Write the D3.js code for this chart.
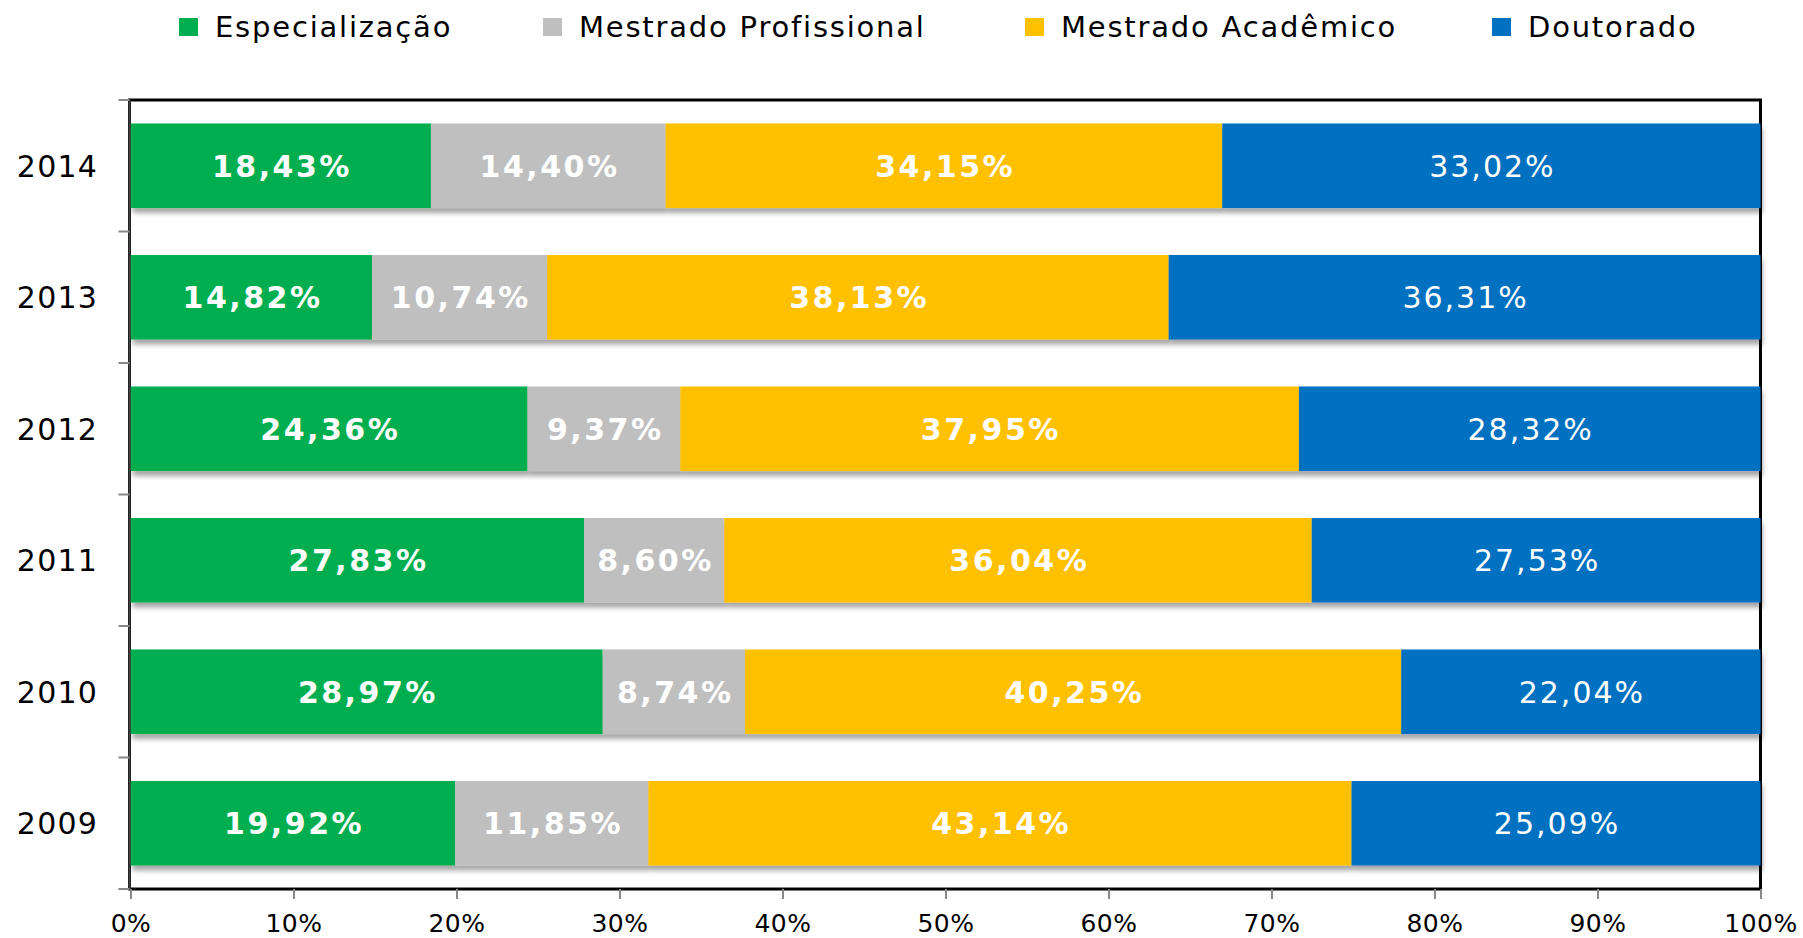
<!DOCTYPE html>
<html lang="pt">
<head>
<meta charset="utf-8">
<title>Distribuição por nível</title>
<script src="https://cdn.jsdelivr.net/npm/d3@7/dist/d3.min.js"></script>
<style>
  body { margin: 0; background: #fff; }
  text { font-family: Verdana, "DejaVu Sans", sans-serif; }
</style>
</head>
<body>
<script>
// data (percent of each year's total)
var years = ["2014", "2013", "2012", "2011", "2010", "2009"];
var series = ["Especialização", "Mestrado Profissional", "Mestrado Acadêmico", "Doutorado"];
var especializacao = [18.43, 14.82, 24.36, 27.83, 28.97, 19.92];
var mestradoProf   = [14.40, 10.74, 9.37, 8.60, 8.74, 11.85];
var mestradoAcad   = [34.15, 38.13, 37.95, 36.04, 40.25, 43.14];
var doutorado      = [33.02, 36.31, 28.32, 27.53, 22.04, 25.09];
var xTicks = [0, 10, 20, 30, 40, 50, 60, 70, 80, 90, 100];

var colors = ["#00ae4f", "#bfbfbf", "#ffc000", "#0070c0"];
var values = [especializacao, mestradoProf, mestradoAcad, doutorado];

var W = 1803, H = 938;
var plot = {left: 130.5, right: 1760.5, top: 100, bottom: 889};

var svg = d3.select("body").append("svg")
    .attr("width", W).attr("height", H);

var defs = svg.append("defs");
var f = defs.append("filter").attr("id", "shadow")
    .attr("x", "-5%").attr("y", "-20%").attr("width", "110%").attr("height", "150%");
f.append("feDropShadow").attr("dx", 2).attr("dy", 5)
    .attr("stdDeviation", 2.5).attr("flood-color", "#000").attr("flood-opacity", 0.35);

var x = d3.scaleLinear().domain([0, 100]).range([plot.left, plot.right]);
var y = d3.scaleBand().domain(years).range([plot.top, plot.bottom])
    .paddingInner(0.357).paddingOuter(0.357 / 2);

// build stacked rows
var rows = years.map(function (yr, i) {
    var acc = 0;
    return {
        year: yr,
        segs: series.map(function (s, k) {
            var v = values[k][i];
            var seg = {key: s, k: k, x0: acc, x1: acc + v, v: v};
            acc += v;
            return seg;
        })
    };
});

// plot frame
svg.append("rect")
    .attr("x", plot.left - 1).attr("y", plot.top)
    .attr("width", plot.right - plot.left + 1).attr("height", plot.bottom - plot.top)
    .attr("fill", "none").attr("stroke", "#000").attr("stroke-width", 3);

var rowG = svg.selectAll("g.row").data(rows).enter()
    .append("g").attr("class", "row");

rowG.append("g").attr("filter", "url(#shadow)")
    .selectAll("rect").data(function (d) { return d.segs.map(function (s) { return {s: s, year: d.year}; }); })
    .enter().append("rect")
    .attr("x", function (d) { return x(d.s.x0); })
    .attr("width", function (d) { return x(d.s.x1) - x(d.s.x0); })
    .attr("y", function (d) { return y(d.year); })
    .attr("height", y.bandwidth())
    .attr("fill", function (d) { return colors[d.s.k]; });

rowG.selectAll("text.lbl")
    .data(function (d) { return d.segs.map(function (s) { return {s: s, year: d.year}; }); })
    .enter().append("text").attr("class", "lbl")
    .attr("x", function (d) { return (x(d.s.x0) + x(d.s.x1)) / 2 + (d.s.k < 3 ? 1.25 : 1); })
    .attr("y", function (d) { return y(d.year) + y.bandwidth() / 2; })
    .attr("dy", "0.36em")
    .attr("text-anchor", "middle")
    .attr("fill", "#fff")
    .style("font-size", "30px")
    .style("letter-spacing", function (d) { return d.s.k < 3 ? "2.5px" : "2px"; })
    .style("font-weight", function (d) { return d.s.k < 3 ? "bold" : "normal"; })
    .text(function (d) { return d.s.v.toFixed(2).replace(".", ",") + "%"; });

// y axis: labels and boundary ticks
var yAxis = svg.append("g");
yAxis.append("line")
    .attr("x1", plot.left - 1).attr("x2", plot.left - 1)
    .attr("y1", plot.top).attr("y2", plot.bottom)
    .attr("stroke", "#444").attr("stroke-width", 2);
var bounds = years.map(function (yr) { return y(yr) - y.step() * y.paddingOuter(); });
bounds.push(plot.bottom);
yAxis.selectAll("line.tk").data(bounds).enter().append("line")
    .attr("x1", plot.left - 12).attr("x2", plot.left - 1)
    .attr("y1", function (d) { return d; }).attr("y2", function (d) { return d; })
    .attr("stroke", "#888").attr("stroke-width", 2);
yAxis.selectAll("text").data(years).enter().append("text")
    .attr("x", 98)
    .attr("y", function (d) { return y(d) + y.bandwidth() / 2; })
    .attr("dy", "0.36em")
    .attr("text-anchor", "end")
    .style("font-size", "30px")
    .style("letter-spacing", "1.2px")
    .attr("fill", "#000")
    .text(function (d) { return d; });

// x axis
var xAxis = svg.append("g")
    .attr("transform", "translate(0," + plot.bottom + ")")
    .call(d3.axisBottom(x).tickValues(xTicks).tickSize(10).tickPadding(15)
        .tickFormat(function (d) { return d + "%"; }));
xAxis.select(".domain").remove();
xAxis.selectAll(".tick line").attr("stroke", "#888").attr("stroke-width", 2);
xAxis.selectAll(".tick text")
    .attr("fill", "#000")
    .style("font-size", "25px")
    .style("letter-spacing", "0.5px")
    .style("font-family", "Verdana, 'DejaVu Sans', sans-serif");

// legend
var legendX = [179, 543, 1025, 1492];
var lg = svg.selectAll("g.legend").data(series).enter()
    .append("g").attr("class", "legend")
    .attr("transform", function (d, i) { return "translate(" + legendX[i] + ",0)"; });
lg.append("rect")
    .attr("x", 0).attr("y", 18).attr("width", 19).attr("height", 18)
    .attr("fill", function (d, i) { return colors[i]; });
lg.append("text")
    .attr("x", 36).attr("y", 27).attr("dy", "0.36em")
    .style("font-size", "29px")
    .style("letter-spacing", "1.8px")
    .attr("fill", "#000")
    .text(function (d) { return d; });
</script>
</body>
</html>
